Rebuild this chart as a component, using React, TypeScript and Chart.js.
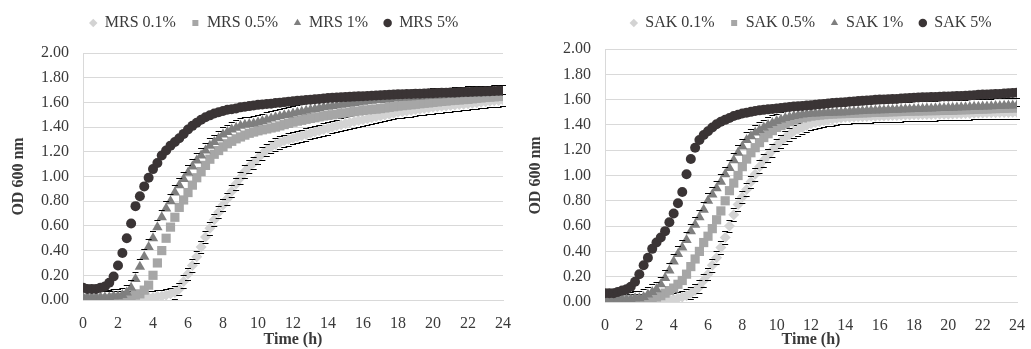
import React, { useEffect, useRef } from 'react';
import { Chart, registerables } from 'chart.js';

Chart.register(...registerables);
Chart.defaults.font.family = "'Liberation Serif', 'Times New Roman', serif";

// Sampling times (h), every 15 min
const TIME_H = [
  0, 0.25, 0.5, 0.75, 1, 1.25, 1.5, 1.75,
  2, 2.25, 2.5, 2.75, 3, 3.25, 3.5, 3.75,
  4, 4.25, 4.5, 4.75, 5, 5.25, 5.5, 5.75,
  6, 6.25, 6.5, 6.75, 7, 7.25, 7.5, 7.75,
  8, 8.25, 8.5, 8.75, 9, 9.25, 9.5, 9.75,
  10, 10.25, 10.5, 10.75, 11, 11.25, 11.5, 11.75,
  12, 12.25, 12.5, 12.75, 13, 13.25, 13.5, 13.75,
  14, 14.25, 14.5, 14.75, 15, 15.25, 15.5, 15.75,
  16, 16.25, 16.5, 16.75, 17, 17.25, 17.5, 17.75,
  18, 18.25, 18.5, 18.75, 19, 19.25, 19.5, 19.75,
  20, 20.25, 20.5, 20.75, 21, 21.25, 21.5, 21.75,
  22, 22.25, 22.5, 22.75, 23, 23.25, 23.5, 23.75,
  24,
];

const X_TICK_STEP = 2;
const Y_TICK_STEP = 0.2;
const Y_MAX = 2;
const X_MAX = 24;

// ---- MRS panel ----
const MRS_LABELS = ['MRS 0.1%', 'MRS 0.5%', 'MRS 1%', 'MRS 5%'];
const MRS_01 = [
  0.02, 0.02, 0.02, 0.02, 0.02, 0.02, 0.02, 0.02,
  0.02, 0.02, 0.02, 0.02, 0.02, 0.02, 0.02, 0.02,
  0.02, 0.03, 0.03, 0.04, 0.05, 0.06, 0.09, 0.15,
  0.21, 0.28, 0.35, 0.43, 0.51, 0.58, 0.65, 0.71,
  0.77, 0.82, 0.88, 0.94, 0.99, 1.04, 1.08, 1.11,
  1.15, 1.185, 1.215, 1.24, 1.26, 1.275, 1.29, 1.30,
  1.31, 1.32, 1.33, 1.34, 1.35, 1.36, 1.37, 1.38,
  1.39, 1.40, 1.41, 1.42, 1.43, 1.438, 1.445, 1.453,
  1.46, 1.468, 1.475, 1.483, 1.49, 1.498, 1.505, 1.513,
  1.52, 1.525, 1.53, 1.535, 1.54, 1.545, 1.55, 1.555,
  1.56, 1.564, 1.568, 1.571, 1.575, 1.579, 1.583, 1.586,
  1.59, 1.594, 1.598, 1.601, 1.605, 1.609, 1.613, 1.616,
  1.62,
];
const MRS_05 = [
  0.01, 0.01, 0.01, 0.01, 0.01, 0.01, 0.01, 0.02,
  0.02, 0.02, 0.03, 0.03, 0.04, 0.05, 0.08, 0.12,
  0.20, 0.30, 0.40, 0.50, 0.59, 0.67, 0.75, 0.81,
  0.87, 0.93, 0.99, 1.04, 1.09, 1.14, 1.18, 1.21,
  1.24, 1.265, 1.285, 1.305, 1.32, 1.335, 1.35, 1.36,
  1.37, 1.378, 1.385, 1.393, 1.40, 1.41, 1.42, 1.43,
  1.44, 1.448, 1.455, 1.463, 1.47, 1.476, 1.483, 1.49,
  1.495, 1.50, 1.505, 1.51, 1.515, 1.52, 1.525, 1.53,
  1.535, 1.539, 1.543, 1.546, 1.55, 1.555, 1.56, 1.565,
  1.57, 1.574, 1.578, 1.581, 1.585, 1.589, 1.593, 1.596,
  1.60, 1.604, 1.608, 1.611, 1.615, 1.618, 1.62, 1.623,
  1.625, 1.629, 1.633, 1.636, 1.64, 1.642, 1.645, 1.648,
  1.65,
];
const MRS_1 = [
  0.02, 0.02, 0.02, 0.02, 0.02, 0.02, 0.02, 0.03,
  0.03, 0.04, 0.06, 0.10, 0.17, 0.27, 0.35, 0.43,
  0.50, 0.59, 0.67, 0.74, 0.80, 0.87, 0.93, 0.98,
  1.03, 1.08, 1.13, 1.17, 1.21, 1.25, 1.28, 1.31,
  1.34, 1.36, 1.38, 1.395, 1.41, 1.42, 1.425, 1.43,
  1.44, 1.45, 1.46, 1.47, 1.48, 1.487, 1.495, 1.50,
  1.51, 1.518, 1.525, 1.533, 1.54, 1.546, 1.553, 1.56,
  1.565, 1.57, 1.575, 1.58, 1.585, 1.59, 1.595, 1.60,
  1.605, 1.609, 1.613, 1.617, 1.62, 1.624, 1.628, 1.632,
  1.635, 1.637, 1.64, 1.642, 1.645, 1.647, 1.65, 1.652,
  1.655, 1.656, 1.657, 1.659, 1.66, 1.663, 1.665, 1.668,
  1.67, 1.671, 1.672, 1.674, 1.675, 1.676, 1.678, 1.679,
  1.68,
];
const MRS_5 = [
  0.10, 0.09, 0.09, 0.09, 0.10, 0.11, 0.14, 0.19,
  0.28, 0.38, 0.50, 0.62, 0.76, 0.84, 0.92, 0.99,
  1.06, 1.11, 1.17, 1.21, 1.25, 1.28, 1.31, 1.345,
  1.38, 1.41, 1.435, 1.46, 1.48, 1.495, 1.51, 1.52,
  1.53, 1.54, 1.545, 1.55, 1.56, 1.565, 1.57, 1.575,
  1.58, 1.583, 1.587, 1.59, 1.595, 1.598, 1.602, 1.606,
  1.61, 1.613, 1.616, 1.619, 1.622, 1.625, 1.628, 1.632,
  1.635, 1.637, 1.639, 1.641, 1.643, 1.645, 1.647, 1.649,
  1.65, 1.652, 1.654, 1.656, 1.658, 1.66, 1.661, 1.663,
  1.665, 1.666, 1.668, 1.669, 1.67, 1.671, 1.672, 1.674,
  1.675, 1.676, 1.678, 1.679, 1.68, 1.681, 1.682, 1.684,
  1.685, 1.686, 1.688, 1.689, 1.69, 1.691, 1.692, 1.694,
  1.695,
];

// ---- SAK panel ----
const SAK_LABELS = ['SAK 0.1%', 'SAK 0.5%', 'SAK 1%', 'SAK 5%'];
const SAK_01 = [
  0.01, 0.01, 0.01, 0.01, 0.01, 0.01, 0.01, 0.01,
  0.01, 0.01, 0.01, 0.01, 0.02, 0.02, 0.02, 0.02,
  0.02, 0.03, 0.04, 0.05, 0.07, 0.09, 0.12, 0.17,
  0.22, 0.29, 0.35, 0.43, 0.51, 0.60, 0.69, 0.77,
  0.83, 0.89, 0.95, 1.01, 1.07, 1.12, 1.16, 1.20,
  1.24, 1.27, 1.30, 1.325, 1.35, 1.365, 1.38, 1.395,
  1.41, 1.418, 1.425, 1.433, 1.44, 1.445, 1.45, 1.455,
  1.46, 1.461, 1.463, 1.464, 1.465, 1.466, 1.468, 1.469,
  1.47, 1.471, 1.473, 1.474, 1.475, 1.476, 1.478, 1.479,
  1.48, 1.481, 1.482, 1.483, 1.483, 1.484, 1.485, 1.485,
  1.485, 1.486, 1.488, 1.489, 1.49, 1.491, 1.493, 1.494,
  1.495, 1.496, 1.496, 1.497, 1.498, 1.498, 1.499, 1.50,
  1.50,
];
const SAK_05 = [
  0.02, 0.02, 0.02, 0.02, 0.02, 0.02, 0.02, 0.02,
  0.02, 0.02, 0.03, 0.03, 0.04, 0.05, 0.07, 0.09,
  0.11, 0.14, 0.17, 0.22, 0.28, 0.34, 0.40, 0.47,
  0.52, 0.58, 0.65, 0.72, 0.80, 0.88, 0.94, 1.00,
  1.07, 1.13, 1.18, 1.22, 1.26, 1.30, 1.33, 1.355,
  1.38, 1.395, 1.41, 1.425, 1.44, 1.448, 1.455, 1.463,
  1.47, 1.474, 1.478, 1.481, 1.485, 1.486, 1.488, 1.489,
  1.49, 1.491, 1.493, 1.494, 1.495, 1.496, 1.498, 1.499,
  1.50, 1.501, 1.503, 1.504, 1.505, 1.506, 1.508, 1.509,
  1.51, 1.51, 1.511, 1.512, 1.513, 1.513, 1.514, 1.515,
  1.515, 1.516, 1.518, 1.519, 1.52, 1.521, 1.523, 1.524,
  1.525, 1.526, 1.528, 1.529, 1.53, 1.531, 1.533, 1.534,
  1.535,
];
const SAK_1 = [
  0.03, 0.02, 0.02, 0.02, 0.02, 0.02, 0.02, 0.03,
  0.03, 0.04, 0.06, 0.08, 0.10, 0.14, 0.19, 0.25,
  0.32, 0.38, 0.43, 0.49, 0.56, 0.61, 0.67, 0.73,
  0.80, 0.85, 0.90, 0.95, 1.01, 1.06, 1.12, 1.18,
  1.23, 1.28, 1.31, 1.34, 1.36, 1.38, 1.40, 1.415,
  1.43, 1.443, 1.455, 1.463, 1.47, 1.476, 1.482, 1.486,
  1.49, 1.491, 1.493, 1.494, 1.495, 1.496, 1.498, 1.499,
  1.50, 1.503, 1.505, 1.508, 1.51, 1.511, 1.513, 1.514,
  1.515, 1.516, 1.518, 1.519, 1.52, 1.521, 1.523, 1.524,
  1.525, 1.526, 1.528, 1.529, 1.53, 1.531, 1.533, 1.534,
  1.535, 1.536, 1.538, 1.539, 1.54, 1.541, 1.543, 1.544,
  1.545, 1.546, 1.548, 1.549, 1.55, 1.551, 1.553, 1.554,
  1.555,
];
const SAK_5 = [
  0.07, 0.07, 0.07, 0.08, 0.09, 0.10, 0.12, 0.16,
  0.22, 0.29, 0.35, 0.42, 0.47, 0.51, 0.56, 0.63,
  0.70, 0.78, 0.87, 1.01, 1.13, 1.22, 1.28, 1.32,
  1.35, 1.38, 1.405, 1.425, 1.44, 1.455, 1.47, 1.48,
  1.49, 1.497, 1.503, 1.51, 1.515, 1.519, 1.523, 1.526,
  1.53, 1.534, 1.538, 1.541, 1.545, 1.548, 1.55, 1.553,
  1.555, 1.559, 1.563, 1.566, 1.57, 1.573, 1.575, 1.578,
  1.58, 1.583, 1.585, 1.588, 1.59, 1.593, 1.595, 1.598,
  1.60, 1.601, 1.603, 1.604, 1.605, 1.608, 1.61, 1.613,
  1.615, 1.616, 1.618, 1.619, 1.62, 1.621, 1.623, 1.624,
  1.625, 1.626, 1.628, 1.629, 1.63, 1.633, 1.635, 1.638,
  1.64, 1.641, 1.643, 1.644, 1.645, 1.648, 1.65, 1.653,
  1.655,
];

// Error bar half-widths (standard deviation) for the series that show caps
const ERR_01 = 0.05;
const ERR_1 = 0.06;

const SERIES_STYLE = [
  { color: '#d3d3d3', pointStyle: 'rectRot', radius: 5.5, order: 3, errPlus: ERR_01, errMinus: ERR_01 },
  { color: '#a6a6a6', pointStyle: 'rect', radius: 6.5, order: 2, errPlus: 0, errMinus: 0 },
  { color: '#7f7f7f', pointStyle: 'triangle', radius: 6, order: 1, errPlus: ERR_1, errMinus: 0 },
  { color: '#3a3435', pointStyle: 'circle', radius: 5, order: 0, errPlus: 0, errMinus: 0 },
];

const TEXT = '#3a3a3a';
const GRID = '#d9d9d9';

const errorCaps = {
  id: 'errorCaps',
  afterDatasetDraw(chart: any, args: any) {
    const ds = chart.data.datasets[args.index];
    if (!ds.errPlus && !ds.errMinus) return;
    const ys = chart.scales.y;
    const { ctx, chartArea } = chart;
    ctx.save();
    ctx.beginPath();
    ctx.rect(chartArea.left, chartArea.top - 6, chartArea.right - chartArea.left + 4, chartArea.bottom - chartArea.top + 6);
    ctx.clip();
    ctx.strokeStyle = '#000';
    ctx.lineWidth = 1;
    ctx.beginPath();
    args.meta.data.forEach((pt: any, i: number) => {
      const v = ds.data[i].y;
      const x = pt.x;
      if (ds.errPlus) {
        const y = Math.round(ys.getPixelForValue(v + ds.errPlus)) + 0.5;
        ctx.moveTo(x - 3, y);
        ctx.lineTo(x + 3, y);
      }
      if (ds.errMinus) {
        const y = Math.round(ys.getPixelForValue(v - ds.errMinus)) + 0.5;
        ctx.moveTo(x - 3, y);
        ctx.lineTo(x + 3, y);
      }
    });
    ctx.stroke();
    ctx.restore();
  },
};

type PanelSpec = {
  labels: string[];
  values: number[][];
  width: number;
  padTop: number;
  padRight: number;
  gap: number;
  yAxisW: number;
  xAxisH: number;
  legendFull: boolean;
  legendDx: number;
};

function makeConfig(p: PanelSpec): any {
  const legendShift = {
    id: 'legendShift',
    afterLayout(chart: any) {
      if (chart.legend) {
        chart.legend.left += p.legendDx;
        chart.legend.right += p.legendDx;
      }
    },
  };
  return {
    type: 'scatter',
    data: {
      datasets: p.labels.map((label, k) => {
        const st = SERIES_STYLE[k];
        return {
          label,
          data: p.values[k].map((v, i) => ({ x: TIME_H[i], y: v })),
          pointStyle: st.pointStyle,
          pointRadius: st.radius,
          pointBackgroundColor: st.color,
          pointBorderColor: st.color,
          backgroundColor: st.color,
          borderColor: st.color,
          pointBorderWidth: 0,
          showLine: false,
          order: st.order,
          errPlus: st.errPlus,
          errMinus: st.errMinus,
        };
      }),
    },
    options: {
      animation: false,
      responsive: false,
      maintainAspectRatio: false,
      layout: { padding: { top: p.padTop, right: p.padRight, left: 0, bottom: 0 } },
      plugins: {
        legend: {
          display: true,
          position: 'top',
          fullSize: p.legendFull,
          labels: {
            usePointStyle: true,
            boxWidth: 7,
            boxHeight: 6,
            padding: 16,
            color: TEXT,
            font: { size: 16 },
            sort: (a: any, b: any) => a.datasetIndex - b.datasetIndex,
          },
        },
        title: {
          display: true,
          text: '',
          weight: 500,
          padding: { top: p.gap, bottom: 0 },
          font: { size: 1, lineHeight: 1 },
        },
        tooltip: { enabled: false },
      },
      scales: {
        x: {
          type: 'linear',
          min: 0,
          max: X_MAX,
          ticks: { stepSize: X_TICK_STEP, color: TEXT, font: { size: 16 }, padding: 6, maxRotation: 0, autoSkip: false },
          grid: { display: false },
          border: { display: true, color: GRID },
          title: { display: true, text: 'Time (h)', color: TEXT, font: { size: 16, weight: 'bold' }, padding: { top: 0, bottom: 0 } },
          afterFit: (s: any) => { s.height = p.xAxisH; },
        },
        y: {
          min: 0,
          max: Y_MAX,
          ticks: {
            stepSize: Y_TICK_STEP,
            color: TEXT,
            font: { size: 16 },
            padding: 14,
            callback: (v: any) => Number(v).toFixed(2),
          },
          grid: { color: GRID, drawTicks: false },
          border: { display: true, color: GRID },
          title: { display: true, text: 'OD 600 nm', color: TEXT, font: { size: 16, weight: 'bold' }, padding: { top: 9, bottom: 0 } },
          afterFit: (s: any) => { s.width = p.yAxisW; },
        },
      },
    },
    plugins: [errorCaps, legendShift],
  };
}

function Panel({ spec, left }: { spec: PanelSpec; left: number }) {
  const ref = useRef<HTMLCanvasElement | null>(null);
  useEffect(() => {
    if (!ref.current) return;
    const chart = new Chart(ref.current, makeConfig(spec));
    return () => chart.destroy();
  }, []);
  return (
    <canvas
      ref={ref}
      width={spec.width}
      height={349}
      style={{ position: 'absolute', left, top: 0, width: spec.width, height: 349 }}
    />
  );
}

const LEFT_SPEC: PanelSpec = {
  labels: MRS_LABELS,
  values: [MRS_01, MRS_05, MRS_1, MRS_5],
  width: 517,
  padTop: -1,
  padRight: 11,
  gap: 11,
  yAxisW: 83,
  xAxisH: 49,
  legendFull: true,
  legendDx: 21,
};

const RIGHT_SPEC: PanelSpec = {
  labels: SAK_LABELS,
  values: [SAK_01, SAK_05, SAK_1, SAK_5],
  width: 514,
  padTop: -1,
  padRight: 8,
  gap: 7,
  yAxisW: 88,
  xAxisH: 47,
  legendFull: false,
  legendDx: 0,
};

export default function App() {
  return (
    <div style={{ position: 'absolute', left: 0, top: 0, width: 1031, height: 349, background: '#fff' }}>
      <Panel spec={LEFT_SPEC} left={0} />
      <Panel spec={RIGHT_SPEC} left={517} />
    </div>
  );
}
